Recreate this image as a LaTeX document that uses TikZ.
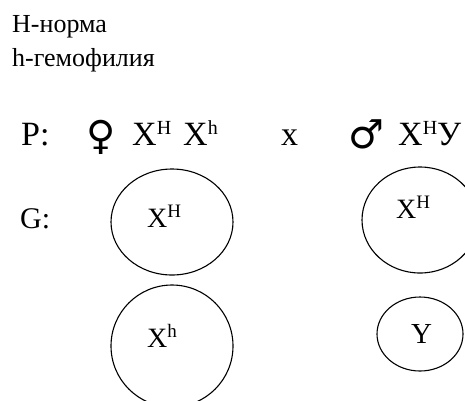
\documentclass[tikz,border=0pt]{standalone}
\usepackage{fontspec}
\setmainfont{Liberation Serif}
\newfontfamily\symfont{DejaVu Sans}
\usetikzlibrary{shapes.geometric}
\newcommand\bigsup[1]{\raisebox{11pt}{\fontsize{20}{20}\selectfont #1}}
\newcommand\cirsup[1]{\raisebox{10pt}{\fontsize{19}{19}\selectfont #1}}
\tikzset{
  txt/.style={inner sep=0pt, anchor=base west},
  head/.style={txt, font=\fontsize{26}{26}\selectfont},
  prow/.style={txt, font=\fontsize{34}{34}\selectfont},
  sym/.style={inner sep=0pt, font=\symfont\fontsize{40}{40}\selectfont},
  gam/.style={draw, ellipse, line width=1.1pt, inner sep=0pt},
  clab/.style={txt, font=\fontsize{28}{28}\selectfont},
}
\begin{document}
\begin{tikzpicture}[x=1pt, y=-1pt]
\useasboundingbox (0,0) rectangle (465,400);
\node[head] (n1) at (12,32) {H-норма};
\node[head] (n2) at (12,66) {h-гемофилия};
% P row
\node[prow] (P) at (21,145) {P:};
\node[sym] (fem) at (101,137) {♀};
\node[prow] (f1) at (132,145) {X\bigsup{H}};
\node[prow] (f2) at (183,145) {X\bigsup{h}};
\node[prow] (cross) at (281,145) {x};
\node[sym] (mal) at (366,134) {♂};
\node[prow] (m1) at (398,145) {X\bigsup{H}У};
% G row
\node[prow, font=\fontsize{30}{30}\selectfont] (G) at (20,228) {G:};
\node[gam, minimum width=122pt, minimum height=106pt] (e1) at (172,222) {};
\node[gam, minimum width=122pt, minimum height=122pt] (e2) at (172,346) {};
\node[gam, minimum width=116pt, minimum height=106pt] (e3) at (420,220) {};
\node[gam, minimum width=86pt, minimum height=74pt] (e4) at (420,334) {};
\node[clab] (l1) at (147,227) {X\cirsup{H}};
\node[clab] (l2) at (147,347) {X\cirsup{h}};
\node[clab] (l3) at (396,218) {X\cirsup{H}};
\node[clab, font=\fontsize{29}{29}\selectfont] (l4) at (411,343) {Y};
\end{tikzpicture}
\end{document}
